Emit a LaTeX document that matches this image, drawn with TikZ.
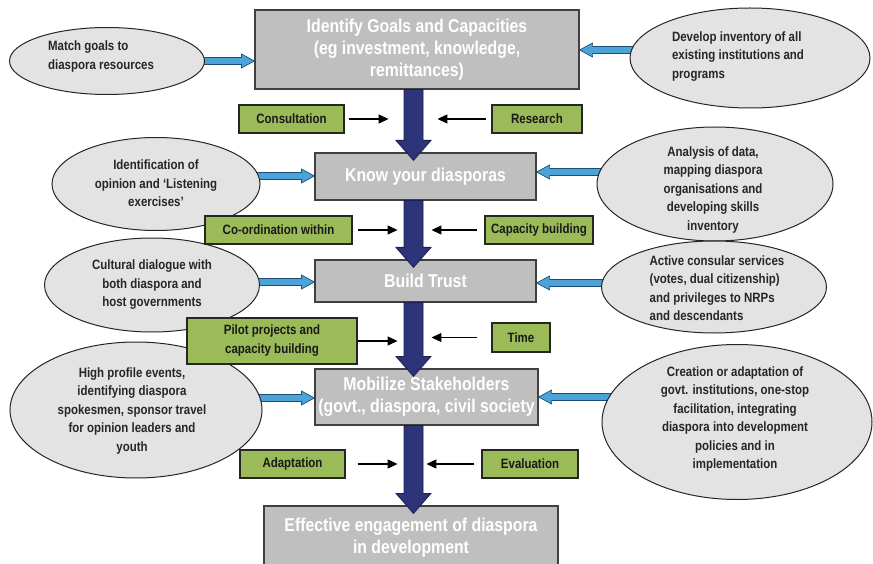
\documentclass[tikz,border=0pt]{standalone}
\usepackage{fontspec}
\setmainfont{Liberation Sans}[FakeStretch=0.85]
\usetikzlibrary{shapes.geometric,arrows.meta,calc}
\pgfdeclarelayer{background}
\pgfsetlayers{background,main}
\definecolor{boxgray}{HTML}{BFBFBF}
\definecolor{boxedge}{HTML}{404040}
\definecolor{boxgreen}{HTML}{9BBB59}
\definecolor{ellgray}{HTML}{E3E3E3}
\definecolor{navy}{HTML}{2E3479}
\definecolor{navyedge}{HTML}{1C2050}
\definecolor{skyblue}{HTML}{4BA3D9}
\definecolor{blueedge}{HTML}{1D4E75}
\newcommand\bluearr[3]{%
 \filldraw[bluearrow] let \p1=(#1), \p2=(#2) in
 (\x1,{\y1+3.5pt}) -- ({\x2-(#3)},{\y1+3.5pt}) -- ({\x2-(#3)},{\y1+7pt}) -- (\x2,\y1)
 -- ({\x2-(#3)},{\y1-7pt}) -- ({\x2-(#3)},{\y1-3.5pt}) -- (\x1,{\y1-3.5pt}) -- cycle;}
\newcommand\navyarr[2]{%
 \filldraw[navyarrow] let \p1=(ax |- #1.south), \p2=(ax |- #2.north) in
 ({\x1-9.5pt},\y1) -- ({\x1-9.5pt},{\y2+12pt}) -- ({\x1-17.5pt},{\y2+12pt}) -- (\x1,{\y2-8pt})
 -- ({\x1+17.5pt},{\y2+12pt}) -- ({\x1+9.5pt},{\y2+12pt}) -- ({\x1+9.5pt},\y1) -- cycle;}
\begin{document}
\begin{tikzpicture}[x=1pt,y=-1pt,
  gbox/.style={draw=black!85, line width=1.1pt, fill=boxgreen, font=\fontsize{13.5}{19}\selectfont\bfseries, text=black!90, align=center, inner sep=0pt},
  mbox/.style={draw=boxedge, line width=1.2pt, fill=boxgray, font=\fontsize{18.6}{22}\selectfont\bfseries, text=white, align=center, inner sep=0pt},
  ell/.style={ellipse, draw=black!85, line width=1pt, fill=ellgray, inner sep=0pt},
  etext/.style={font=\fontsize{13.5}{18.5}\selectfont\bfseries, text=black!85, inner sep=0pt},
  sarrow/.style={draw=black, line width=1.2pt, -{Triangle[length=10pt,width=9pt]}},
  navyarrow/.style={fill=navy, draw=navyedge, line width=0.8pt},
  bluearrow/.style={fill=skyblue, draw=blueedge, line width=0.7pt},
]
\useasboundingbox (0,0) rectangle (873,564);
\clip (0,0) rectangle (873,564);
\coordinate (ax) at (413.5,0);

% ellipses
\node[ell, minimum width=195pt, minimum height=67pt] (e1) at (107,61) {};
\node[ell, minimum width=240pt, minimum height=100pt] (e2) at (750,58) {};
\node[ell, minimum width=208pt, minimum height=93pt] (e3) at (156,184) {};
\node[ell, minimum width=236pt, minimum height=114pt] (e4) at (715,184) {};
\node[ell, minimum width=215pt, minimum height=94pt] (e5) at (152,285) {};
\node[ell, minimum width=225pt, minimum height=92pt] (e6) at (714,287) {};
\node[ell, minimum width=252pt, minimum height=136pt] (e7) at (136,410) {};
\node[ell, minimum width=270pt, minimum height=155pt] (e8) at (737,422) {};

\node[etext, align=left] (e1t) at (101,56.5) {Match goals to\\diaspora resources};
\node[etext, align=left] (e2t) at (738,56.5) {Develop inventory of all\\existing institutions and\\programs};
\node[etext, align=center] (e3t) at (156,183.5) {Identification of\\opinion and ‘Listening\\exercises’};
\node[etext, align=center] (e4t) at (713,190) {Analysis of data,\\mapping diaspora\\organisations and\\developing skills\\inventory};
\node[etext, align=center] (e5t) at (152,285) {Cultural dialogue with\\both diaspora and\\host governments};
\node[etext, align=left] (e6t) at (717,288) {Active consular services\\(votes, dual citizenship)\\and privileges to NRPs\\and descendants};
\node[etext, align=center] (e7t) at (132,411) {High profile events,\\identifying diaspora\\spokesmen, sponsor travel\\for opinion leaders and\\youth};
\node[etext, align=center] (e8t) at (735,419) {Creation or adaptation of\\govt. institutions, one-stop\\facilitation, integrating\\diaspora into development\\policies and in\\implementation};

% main boxes
\node[mbox, minimum width=324pt, minimum height=79pt] (b1) at (417,49.5) {Identify Goals and Capacities\\(eg investment, knowledge,\\remittances)};
\node[mbox, minimum width=221pt, minimum height=47pt] (b2) at (425.5,176.5) {Know your diasporas};
\node[mbox, minimum width=221pt, minimum height=42pt] (b3) at (425.5,281) {Build Trust};
\node[mbox, minimum width=223pt, minimum height=56pt] (b4) at (426.5,397) {Mobilize Stakeholders\\(govt., diaspora, civil society};
\node[mbox, minimum width=294pt, minimum height=64pt] (b5) at (411,538) {Effective engagement of diaspora\\in development};

% blue arrows (behind ellipses)
\coordinate (s1) at ([xshift=-4pt]e1.east);
\coordinate (s2) at ([yshift=8pt,xshift=4pt]e2.west);
\coordinate (s3) at ([yshift=8pt,xshift=-4pt]e3.east);
\coordinate (s4) at ([yshift=12pt,xshift=4pt]e4.west);
\coordinate (s5) at ([yshift=3pt,xshift=-4pt]e5.east);
\coordinate (s6) at ([yshift=4pt,xshift=4pt]e6.west);
\coordinate (s7) at ([yshift=12pt,xshift=-4pt]e7.east);
\coordinate (s8) at ([yshift=25pt,xshift=9pt]e8.west);
\begin{pgfonlayer}{background}
\bluearr{s1}{s1 -| b1.west}{13pt}
\bluearr{s2}{s2 -| b1.east}{-13pt}
\bluearr{s3}{s3 -| b2.west}{13pt}
\bluearr{s4}{s4 -| b2.east}{-13pt}
\bluearr{s5}{s5 -| b3.west}{13pt}
\bluearr{s6}{s6 -| b3.east}{-13pt}
\bluearr{s7}{s7 -| b4.west}{13pt}
\bluearr{s8}{s8 -| b4.east}{-13pt}
\end{pgfonlayer}

% green boxes
\node[gbox, minimum width=105pt, minimum height=28pt] (g1) at (291.5,119) {Consultation};
\node[gbox, minimum width=90pt, minimum height=28pt] (g2) at (537,119) {Research};
\node[gbox, minimum width=147pt, minimum height=28pt] (g3) at (278.5,230) {Co-ordination within};
\node[gbox, minimum width=108pt, minimum height=28pt] (g4) at (539,230) {Capacity building};
\node[gbox, minimum width=170pt, minimum height=46pt] (g5) at (272,341) {Pilot projects and\\capacity building};
\node[gbox, minimum width=58pt, minimum height=29pt] (g6) at (521,337.5) {Time};
\node[gbox, minimum width=105pt, minimum height=28pt] (g7) at (292.5,464) {Adaptation};
\node[gbox, minimum width=96pt, minimum height=28pt] (g8) at (530,464) {Evaluation};

% navy arrows
\navyarr{b1}{b2}
\navyarr{b2}{b3}
\navyarr{b3}{b4}
\navyarr{b4}{b5}

% small arrows
\draw[sarrow] ([xshift=4pt]g1.east) -- ([xshift=44pt]g1.east);
\draw[sarrow] ([xshift=-5pt]g2.west) -- ([xshift=-54pt]g2.west);
\draw[sarrow] ([xshift=5pt]g3.east) -- ([xshift=45pt]g3.east);
\draw[sarrow] ([xshift=-7pt]g4.west) -- ([xshift=-53pt]g4.west);
\draw[sarrow] ([xshift=0pt]g5.east) -- ([xshift=40pt]g5.east);
\draw[sarrow] ([xshift=-14pt]g6.west) -- ([xshift=-60pt]g6.west);
\draw[sarrow] ([xshift=12pt]g7.east) -- ([xshift=52pt]g7.east);
\draw[sarrow] ([xshift=-7pt]g8.west) -- ([xshift=-55pt]g8.west);
\end{tikzpicture}
\end{document}
